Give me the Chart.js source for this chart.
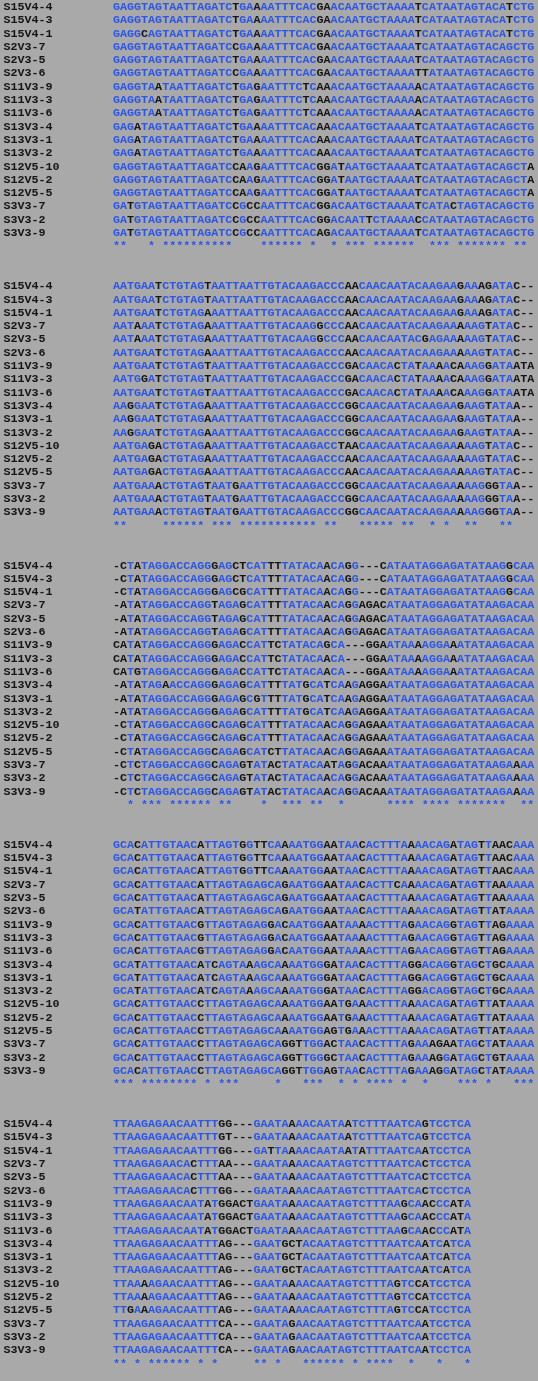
<!DOCTYPE html>
<html>
<head>
<meta charset="utf-8">
<script src="https://cdn.jsdelivr.net/npm/chart.js@4"></script>
<style>
  html, body { margin: 0; padding: 0; background: #a9a9a9; }
  canvas { display: block; }
</style>
</head>
<body>
<canvas id="aln" width="538" height="1381"></canvas>
<script>
const names = ["S15V4-4", "S15V4-3", "S15V4-1", "S2V3-7", "S2V3-5", "S2V3-6", "S11V3-9", "S11V3-3", "S11V3-6",
  "S13V3-4", "S13V3-1", "S13V3-2", "S12V5-10", "S12V5-2", "S12V5-5", "S3V3-7", "S3V3-2", "S3V3-9"];

const block1 = [
  "GAGGTAGTAATTAGATCTGAAAATTTCACGAACAATGCTAAAATCATAATAGTACATCTG",
  "GAGGTAGTAATTAGATCTGAAAATTTCACGAACAATGCTAAAATCATAATAGTACATCTG",
  "GAGGCAGTAATTAGATCTGAAAATTTCACGAACAATGCTAAAATCATAATAGTACATCTG",
  "GAGGTAGTAATTAGATCCGAAAATTTCACGAACAATGCTAAAATCATAATAGTACAGCTG",
  "GAGGTAGTAATTAGATCTGAAAATTTCACGAACAATGCTAAAATCATAATAGTACAGCTG",
  "GAGGTAGTAATTAGATCCGAAAATTTCACGAACAATGCTAAAATTATAATAGTACAGCTG",
  "GAGGTAATAATTAGATCTGAGAATTTCTCAAACAATGCTAAAAACATAATAGTACAGCTG",
  "GAGGTAATAATTAGATCTGAGAATTTCTCAAACAATGCTAAAAACATAATAGTACAGCTG",
  "GAGGTAATAATTAGATCTGAGAATTTCTCAAACAATGCTAAAAACATAATAGTACAGCTG",
  "GAGATAGTAATTAGATCTGAAAATTTCACAAACAATGCTAAAATCATAATAGTACAGCTG",
  "GAGATAGTAATTAGATCTGAAAATTTCACAAACAATGCTAAAATCATAATAGTACAGCTG",
  "GAGATAGTAATTAGATCTGAAAATTTCACAAACAATGCTAAAATCATAATAGTACAGCTG",
  "GAGGTAGTAATTAGATCCAAGAATTTCACGGATAATGCTAAAATCATAATAGTACAGCTA",
  "GAGGTAGTAATTAGATCCAAGAATTTCACGGATAATGCTAAAATCATAATAGTACAGCTA",
  "GAGGTAGTAATTAGATCCAAGAATTTCACGGATAATGCTAAAATCATAATAGTACAGCTA",
  "GATGTAGTAATTAGATCCGCCAATTTCACGGACAATGCTAAAATCATACTAGTACAGCTG",
  "GATGTAGTAATTAGATCCGCCAATTTCACGGACAATTCTAAAACCATAATAGTACAGCTG",
  "GATGTAGTAATTAGATCCGCCAATTTCACAGACAATGCTAAAATCATAATAGTACAGCTG"
];

const block2 = [
  "AATGAATCTGTAGTAATTAATTGTACAAGACCCAACAACAATACAAGAAGAAAGATAC--",
  "AATGAATCTGTAGTAATTAATTGTACAAGACCCAACAACAATACAAGAAGAAAGATAC--",
  "AATGAATCTGTAGAAATTAATTGTACAAGACCCAACAACAATACAAGAAGAAAGATAC--",
  "AATAAATCTGTAGAAATTAATTGTACAAGGCCCAACAACAATACAAGAAAAAGTATAC--",
  "AATAAATCTGTAGAAATTAATTGTACAAGGCCCAACAACAATACGAGAAAAAGTATAC--",
  "AATGAATCTGTAGAAATTAATTGTACAAGACCCAACAACAATACAAGAAAAAGTATAC--",
  "AATGAATCTGTAGTAATTAATTGTACAAGACCCGACAACACTATAAAACAAAGGATAATA",
  "AATGGATCTGTAGTAATTAATTGTACAAGACCCGACAACACTATAAAACAAAGGATAATA",
  "AATGAATCTGTAGTAATTAATTGTACAAGACCCGACAACACTATAAAACAAAGGATAATA",
  "AAGGAATCTGTAGAAATTAATTGTACAAGACCCGGCAACAATACAAGAAGAAGTATAA--",
  "AAGGAATCTGTAGAAATTAATTGTACAAGACCCGGCAACAATACAAGAAGAAGTATAA--",
  "AAGGAATCTGTAGAAATTAATTGTACAAGACCCGGCAACAATACAAGAAGAAGTATAA--",
  "AATGAGACTGTAGAAATTAATTGTACAAGACCTAACAACAATACAAGAAAAAGTATAC--",
  "AATGAGACTGTAGAAATTAATTGTACAAGACCCAACAACAATACAAGAAAAAGTATAC--",
  "AATGAGACTGTAGAAATTAATTGTACAAGACCCAACAACAATACAAGAAAAAGTATAC--",
  "AATGAAACTGTAGTAATGAATTGTACAAGACCCGGCAACAATACAAGAAAAAGGGTAA--",
  "AATGAAACTGTAGTAATGAATTGTACAAGACCCGGCAACAATACAAGAAAAAGGGTAA--",
  "AATGAAACTGTAGTAATGAATTGTACAAGACCCGGCAACAATACAAGAAAAAGGGTAA--"
];

const block3 = [
  "-CTATAGGACCAGGGAGCTCATTTTATACAACAGG---CATAATAGGAGATATAAGGCAA",
  "-CTATAGGACCAGGGAGCTCATTTTATACAACAGG---CATAATAGGAGATATAAGGCAA",
  "-CTATAGGACCAGGGAGCGCATTTTATACAACAGG---CATAATAGGAGATATAAGGCAA",
  "-ATATAGGACCAGGTAGAGCATTTTATACAACAGGAGACATAATAGGAGATATAAGACAA",
  "-ATATAGGACCAGGTAGAGCATTTTATACAACAGGAGACATAATAGGAGATATAAGACAA",
  "-ATATAGGACCAGGTAGAGCATTTTATACAACAGGAGACATAATAGGAGATATAAGACAA",
  "CATATAGGACCAGGGAGACCATTCTATACAGCA---GGAATAAAAGGAAATATAAGACAA",
  "CATATAGGACCAGGGAGACCATTCTATACAACA---GGAATAAAAGGAAATATAAGACAA",
  "CATGTAGGACCAGGGAGACCATTCTATACAACA---GGAATAAAAGGAAATATAAGACAA",
  "-ATATAGAACCAGGGAGAGCATTTTATGCATCAAGAGGAATAATAGGAGATATAAGACAA",
  "-ATATAGGACCAGGGAGAGCGTTTTATGCATCAAGAGGAATAATAGGAGATATAAGACAA",
  "-ATATAGGACCAGGGAGAGCATTTTATGCATCAAGAGGAATAATAGGAGATATAAGACAA",
  "-CTATAGGACCAGGCAGAGCATTTTATACAACAGGAGAAATAATAGGAGATATAAGACAA",
  "-CTATAGGACCAGGCAGAGCATTTTATACAACAGGAGAAATAATAGGAGATATAAGACAA",
  "-CTATAGGACCAGGCAGAGCATCTTATACAACAGGAGAAATAATAGGAGATATAAGACAA",
  "-CTCTAGGACCAGGCAGAGTATACTATACAATAGGACAAATAATAGGAGATATAAGAAAA",
  "-CTCTAGGACCAGGCAGAGTATACTATACAACAGGACAAATAATAGGAGATATAAGAAAA",
  "-CTCTAGGACCAGGCAGAGTATACTATACAACAGGACAAATAATAGGAGATATAAGAAAA"
];

const block4 = [
  "GCACATTGTAACATTAGTGGTTCAAAATGGAATAACACTTTAAAACAGATAGTTAACAAA",
  "GCACATTGTAACATTAGTGGTTCAAAATGGAATAACACTTTAAAACAGATAGTTAACAAA",
  "GCACATTGTAACATTAGTGGTTCAAAATGGAATAACACTTTAAAACAGATAGTTAACAAA",
  "GCACATTGTAACATTAGTAGAGCAGAATGGAATAACACTTCAAAACAGATAGTTAAAAAA",
  "GCACATTGTAACATTAGTAGAGCAGAATGGAATAACACTTTAAAACAGATAGTTAAAAAA",
  "GCATATTGTAACATTAGTAGAGCAGAATGGAATAACACTTTAAAACAGATAGTTATAAAA",
  "GCACATTGTAACGTTAGTAGAGGACAATGGAATAAAACTTTAGAACAGGTAGTTAGAAAA",
  "GCACATTGTAACGTTAGTAGAGGACAATGGAATAAAACTTTAGAACAGGTAGTTAGAAAA",
  "GCACATTGTAACGTTAGTAGAGGACAATGGAATAAAACTTTAGAACAGGTAGTTAGAAAA",
  "GCATATTGTAACATCAGTAAAGCAAAATGGGATAACACTTTAGGACAGGTAGCTGCAAAA",
  "GCATATTGTAACATCAGTAAAGCAAAATGGGATAACACTTTAGGACAGGTAGCTGCAAAA",
  "GCATATTGTAACATCAGTAAAGCAAAATGGGATAACACTTTAGGACAGGTAGCTGCAAAA",
  "GCACATTGTAACCTTAGTAGAGCAAAATGGAATGAAACTTTAAAACAGATAGTTATAAAA",
  "GCACATTGTAACCTTAGTAGAGCAAAATGGAATGAAACTTTAAAACAGATAGTTATAAAA",
  "GCACATTGTAACCTTAGTAGAGCAAAATGGAGTGAAACTTTAAAACAGATAGTTATAAAA",
  "GCACATTGTAACCTTAGTAGAGCAGGTTGGACTAACACTTTAGAAAGAATAGCTATAAAA",
  "GCACATTGTAACCTTAGTAGAGCAGGTTGGGCTAACACTTTAGAAAGGATAGCTGTAAAA",
  "GCACATTGTAACCTTAGTAGAGCAGGTTGGAGTAACACTTTAGAAAGGATAGCTATAAAA"
];

const block5 = [
  "TTAAGAGAACAATTTGG---GAATAAAACAATAATCTTTAATCAGTCCTCA",
  "TTAAGAGAACAATTTGT---GAATAAAACAATAATCTTTAATCAGTCCTCA",
  "TTAAGAGAACAATTTGG---GATTAAAACAATAATATTTAATCAATCCTCA",
  "TTAAGAGAACACTTTAA---GAATAAAACAATAGTCTTTAATCACTCCTCA",
  "TTAAGAGAACACTTTAA---GAATAAAACAATAGTCTTTAATCACTCCTCA",
  "TTAAGAGAACACTTTGG---GAATAAAACAATAGTCTTTAATCACTCCTCA",
  "TTAAGAGAACAATATGGACTGAATAAAACAATAGTCTTTAAGCAACCCATA",
  "TTAAGAGAACAATATGGACTGAATAAAACAATAGTCTTTAAGCAACCCATA",
  "TTAAGAGAACAATATGGACTGAATAAAACAATAGTCTTTAAGCAACCCATA",
  "TTAAGAGAACAATTTAG---GAATGCTACAATAGTCTTTAATCAATCATCA",
  "TTAAGAGAACAATTTAG---GAATGCTACAATAGTCTTTAATCAATCATCA",
  "TTAAGAGAACAATTTAG---GAATGCTACAATAGTCTTTAATCAATCATCA",
  "TTAAAAGAACAATTTAG---GAATAAAACAATAGTCTTTAGTCCATCCTCA",
  "TTAAAAGAACAATTTAG---GAATAAAACAATAGTCTTTAGTCCATCCTCA",
  "TTGAAAGAACAATTTAG---GAATAAAACAATAGTCTTTAGTCCATCCTCA",
  "TTAAGAGAACAATTTCA---GAATAGAACAATAGTCTTTAATCAATCCTCA",
  "TTAAGAGAACAATTTCA---GAATAGAACAATAGTCTTTAATCAATCCTCA",
  "TTAAGAGAACAATTTCA---GAATAGAACAATAGTCTTTAATCAATCCTCA"
];

const blocks = [block1, block2, block3, block4, block5];
const ROWS_PER_BLOCK = 21;
const BLUE = "#2a56ea";
const DARK = "#151515";

// one point per character: x = column, y = text line
const cells = [];
blocks.forEach((blk, b) => {
  const len = blk[0].length;
  for (let c = 0; c < len; c++) {
    const col = blk.map(s => s[c]);
    const counts = {};
    col.forEach(ch => { counts[ch] = (counts[ch] || 0) + 1; });
    let best = null;
    for (const k in counts) if (best === null || counts[k] > counts[best]) best = k;
    const frac = counts[best] / col.length;
    const allSame = frac === 1 && best !== "-";
    col.forEach((ch, r) => {
      const blue = ch !== "-" && ch === best && frac >= 0.8;
      cells.push({ x: c, y: b * ROWS_PER_BLOCK + r, ch: ch, color: blue ? BLUE : DARK });
    });
    if (allSame) cells.push({ x: c, y: b * ROWS_PER_BLOCK + 18, ch: "*", color: BLUE });
  }
});
const labels = [];
blocks.forEach((blk, b) => names.forEach((n, r) => labels.push({ x: -16.1, y: b * ROWS_PER_BLOCK + r, ch: n, color: DARK })));

const textPlugin = {
  id: "textPlugin",
  afterDatasetsDraw(chart) {
    const ctx = chart.ctx;
    ctx.save();
    ctx.font = "bold 11.7px 'Liberation Mono', 'DejaVu Sans Mono', monospace";
    ctx.textBaseline = "middle";
    chart.data.datasets.forEach((ds, i) => {
      const meta = chart.getDatasetMeta(i);
      ctx.textAlign = ds.label === "names" ? "left" : "center";
      meta.data.forEach((pt, j) => {
        const d = ds.data[j];
        ctx.fillStyle = d.color;
        ctx.fillText(d.ch, pt.x, pt.y);
      });
    });
    ctx.restore();
  }
};

const xMin = -116.5 / 7.02;
const yMin = -7 / 13.3;
new Chart(document.getElementById("aln"), {
  type: "scatter",
  data: {
    datasets: [
      { label: "names", data: labels, pointRadius: 0 },
      { label: "bases", data: cells, pointRadius: 0 }
    ]
  },
  options: {
    responsive: false,
    animation: false,
    layout: { padding: 0 },
    plugins: { legend: { display: false }, tooltip: { enabled: false } },
    scales: {
      x: { type: "linear", display: false, min: xMin, max: xMin + 538 / 7.02 },
      y: { type: "linear", display: false, reverse: true, min: yMin, max: yMin + 1381 / 13.3 }
    }
  },
  plugins: [textPlugin]
});
</script>
</body>
</html>
